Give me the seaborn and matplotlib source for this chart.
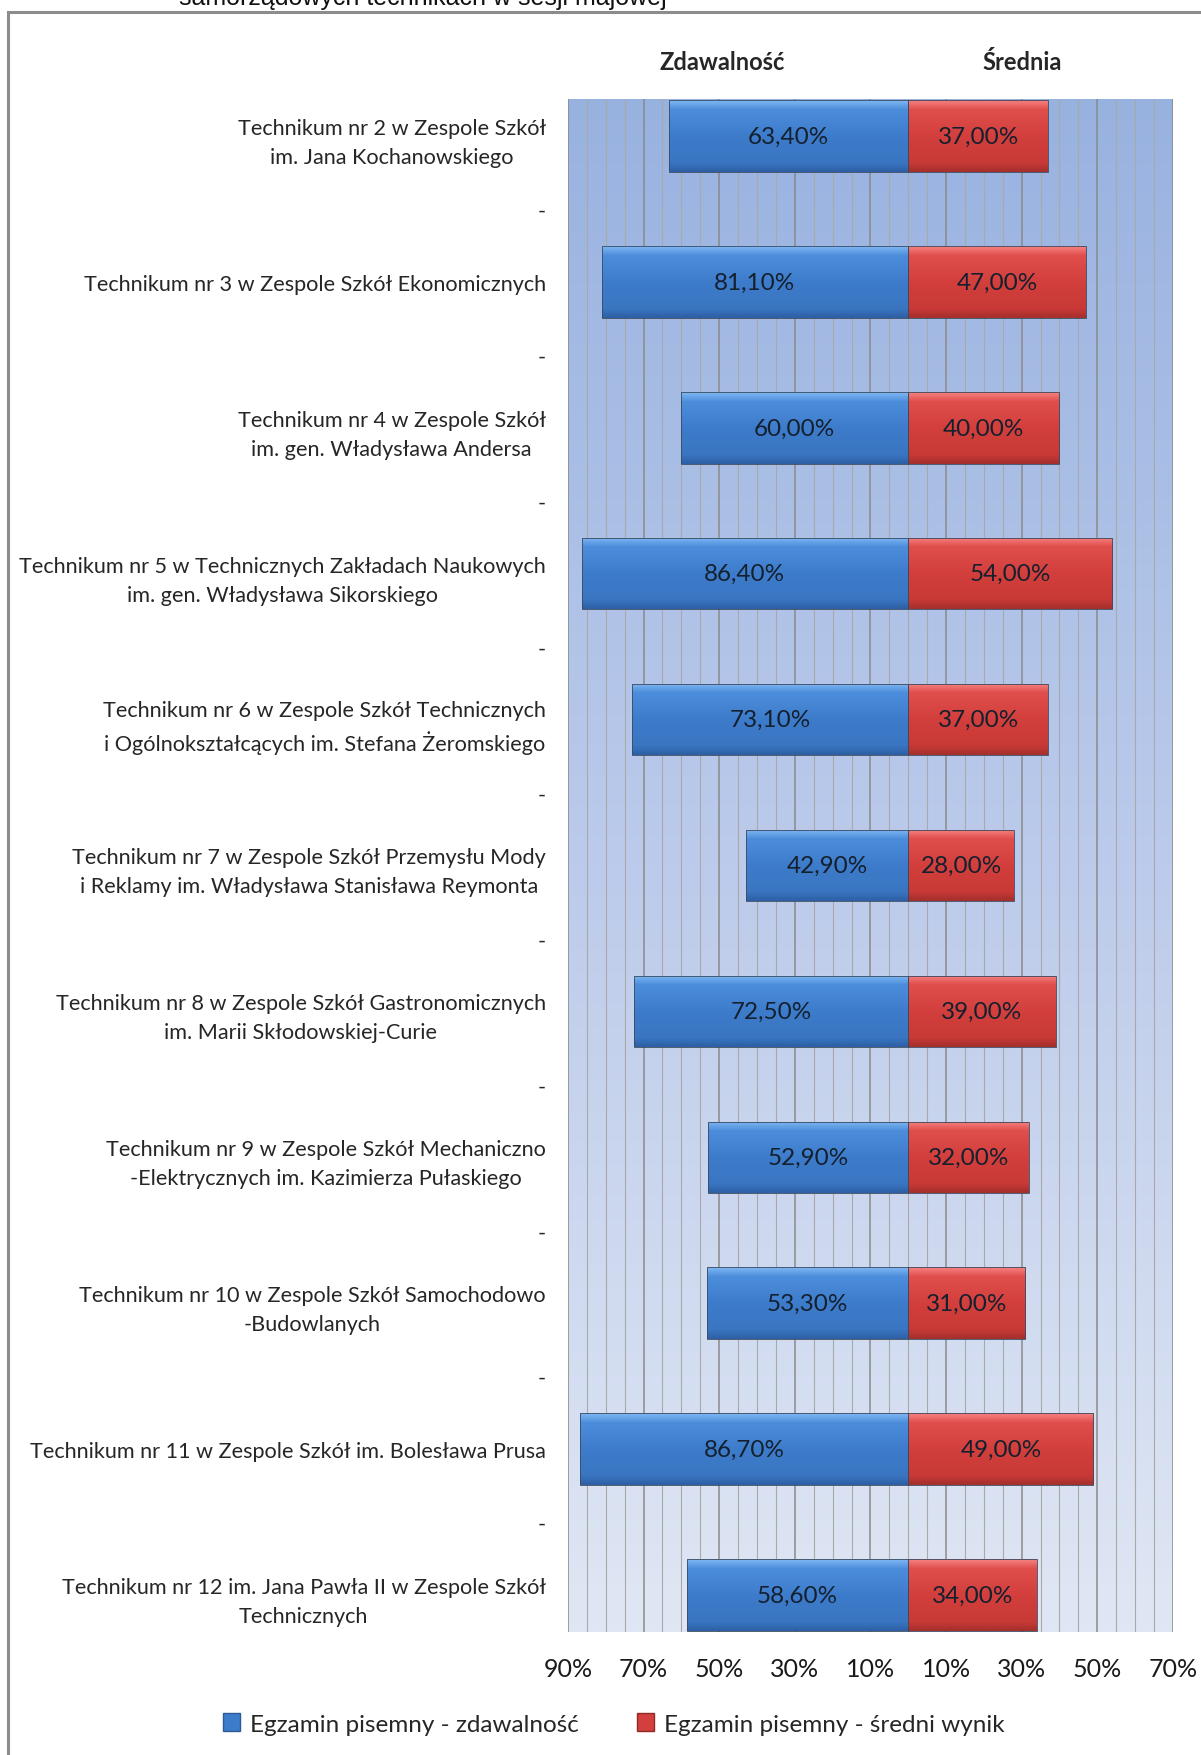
#!/usr/bin/env python3
"""Zdawalność i średni wynik egzaminu pisemnego w technikach - wykres motylkowy."""

import matplotlib

matplotlib.use("Agg")

import matplotlib.pyplot as plt
import numpy as np
import pandas as pd
import seaborn as sns
from matplotlib.colors import LinearSegmentedColormap, to_rgb
from matplotlib.patches import Patch, Rectangle
from matplotlib.ticker import FuncFormatter, MultipleLocator

SCHOOLS = [
    "Technikum nr 2 w Zespole Szkół\nim. Jana Kochanowskiego",
    "Technikum nr 3 w Zespole Szkół Ekonomicznych",
    "Technikum nr 4 w Zespole Szkół\nim. gen. Władysława Andersa",
    "Technikum nr 5 w Technicznych Zakładach Naukowych\nim. gen. Władysława Sikorskiego",
    "Technikum nr 6 w Zespole Szkół Technicznych\ni Ogólnokształcących im. Stefana Żeromskiego",
    "Technikum nr 7 w Zespole Szkół Przemysłu Mody\ni Reklamy im. Władysława Stanisława Reymonta",
    "Technikum nr 8 w Zespole Szkół Gastronomicznych\nim. Marii Skłodowskiej-Curie",
    "Technikum nr 9 w Zespole Szkół Mechaniczno\n-Elektrycznych im. Kazimierza Pułaskiego",
    "Technikum nr 10 w Zespole Szkół Samochodowo\n-Budowlanych",
    "Technikum nr 11 w Zespole Szkół im. Bolesława Prusa",
    "Technikum nr 12 im. Jana Pawła II w Zespole Szkół\nTechnicznych",
]
PASS_RATE = [63.4, 81.1, 60.0, 86.4, 73.1, 42.9, 72.5, 52.9, 53.3, 86.7, 58.6]
MEAN_SCORE = [37.0, 47.0, 40.0, 54.0, 37.0, 28.0, 39.0, 32.0, 31.0, 49.0, 34.0]

SERIES = ["Egzamin pisemny - zdawalność", "Egzamin pisemny - średni wynik"]
HEADERS = ["Zdawalność", "Średnia"]
X_TICKS = [-90, -70, -50, -30, -10, 10, 30, 50, 70]
TITLE_TAIL = "samorządowych technikach w sesji majowej"

BLUE = "#3d7ccb"
RED = "#d23f3c"
BAR_GRADIENTS = {
    BLUE: ["#7db6f2", "#4c8ddb", "#3d7ccb", "#3a76c2", "#2d60a6"],
    RED: ["#f58080", "#e04e4b", "#d23f3c", "#c93a37", "#a52f2d"],
}


def pl_pct(v: float) -> str:
    return f"{abs(v):.2f}".replace(".", ",") + "%"


def main() -> None:
    sns.set_style("white")
    plt.rcParams["font.family"] = ["Lato", "DejaVu Sans"]

    df = pd.DataFrame({"szkola": SCHOOLS, "zdaw": PASS_RATE, "srednia": MEAN_SCORE})
    long = pd.concat(
        [
            pd.DataFrame({"szkola": df["szkola"], "wartosc": -df["zdaw"], "seria": SERIES[0]}),
            pd.DataFrame({"szkola": df["szkola"], "wartosc": df["srednia"], "seria": SERIES[1]}),
        ],
        ignore_index=True,
    )

    fig = plt.figure(figsize=(12.01, 17.56), dpi=100)
    ax = fig.add_axes([0.4729, 0.0700, 0.5037, 0.8731])

    sns.barplot(
        data=long,
        y="szkola",
        x="wartosc",
        hue="seria",
        order=SCHOOLS,
        hue_order=SERIES,
        palette=[BLUE, RED],
        dodge=False,
        orient="h",
        width=0.49,
        errorbar=None,
        legend=False,
        ax=ax,
    )

    # background gradient of the plot area
    bg = LinearSegmentedColormap.from_list("bg", ["#98b2e0", "#bccbeb", "#e0e7f4"])
    ax.imshow(
        np.linspace(0, 1, 256).reshape(-1, 1),
        cmap=bg,
        extent=(0, 1, 0, 1),
        transform=ax.transAxes,
        aspect="auto",
        zorder=0.1,
    )

    # bevelled look on each bar
    for p in list(ax.patches):
        x0, y0, w, h = p.get_x(), p.get_y(), p.get_width(), p.get_height()
        if w == 0:
            continue
        face = matplotlib.colors.to_hex(p.get_facecolor())
        key = min(BAR_GRADIENTS, key=lambda c: np.sum((np.array(to_rgb(c)) - np.array(to_rgb(face))) ** 2))
        cmap = LinearSegmentedColormap.from_list("bar", BAR_GRADIENTS[key])
        grad = np.concatenate([np.linspace(0, 0.25, 8), np.linspace(0.25, 0.75, 40), np.linspace(0.75, 1, 8)])
        im = ax.imshow(
            grad.reshape(-1, 1),
            cmap=cmap,
            vmin=0,
            vmax=1,
            extent=(x0, x0 + w, y0 + h, y0),
            aspect="auto",
            zorder=1.5,
        )
        im.set_clip_path(p)
        p.set_facecolor("none")
        p.set_edgecolor("#3b4a5e")
        p.set_linewidth(0.6)
        p.set_zorder(1.6)
        ax.text(
            x0 + w / 2,
            y0 + h / 2,
            pl_pct(w),
            ha="center",
            va="center",
            fontsize=17.5,
            color="#14202e",
            zorder=3,
        )

    ax.set_xlim(-90, 70)
    ax.set_ylim(len(SCHOOLS) - 1 + 0.255, -0.255)

    ax.set_xticks(X_TICKS)
    ax.xaxis.set_major_formatter(FuncFormatter(lambda v, _: f"{abs(v):.0f}%"))
    ax.xaxis.set_minor_locator(MultipleLocator(5))
    ax.grid(axis="x", which="major", color="#8a8a8a", linewidth=1.1)
    ax.grid(axis="x", which="minor", color="#a9a9a9", linewidth=0.8)
    ax.grid(axis="y", visible=False)
    ax.set_axisbelow(True)

    ax.set_yticks(ax.get_yticks(), labels=SCHOOLS, multialignment="center", linespacing=1.55)
    ax.set_yticks(np.arange(len(SCHOOLS) - 1) + 0.5, labels=["-"] * (len(SCHOOLS) - 1), minor=True)
    ax.tick_params(axis="y", which="both", length=0, pad=16, labelsize=15.6)
    ax.tick_params(axis="x", which="both", length=0, pad=18, labelsize=18, labelcolor="#1a1a1a")
    ax.set_xlabel("")
    ax.set_ylabel("")
    for s in ax.spines.values():
        s.set_visible(False)

    fig.text(722 / 1201, 1 - 63 / 1756, HEADERS[0], ha="center", va="center", fontsize=17, fontweight="bold")
    fig.text(1022 / 1201, 1 - 63 / 1756, HEADERS[1], ha="center", va="center", fontsize=17, fontweight="bold")

    # cut-off title tail and outer frame
    fig.text(179 / 1201, 1 - 5 / 1756, TITLE_TAIL, ha="left", va="baseline",
             fontsize=18, family="Liberation Sans", color="#111111")
    fig.patches.append(
        Rectangle((8 / 1201, -0.1), 1.2, 1.1 - 13 / 1756, transform=fig.transFigure,
                  facecolor="none", edgecolor="#8c8c8c", linewidth=2.2)
    )

    handles = [Patch(facecolor=BLUE, edgecolor="#2d5a96"), Patch(facecolor=RED, edgecolor="#8e2a28")]
    fig.legend(
        handles,
        SERIES,
        loc="center",
        bbox_to_anchor=(614 / 1201, 1 - 1725 / 1756),
        ncol=2,
        frameon=False,
        fontsize=17.5,
        handlelength=0.7,
        handleheight=0.7,
        handletextpad=0.4,
        columnspacing=2.4,
    )

    fig.savefig("out.png", dpi=100)


if __name__ == "__main__":
    main()
